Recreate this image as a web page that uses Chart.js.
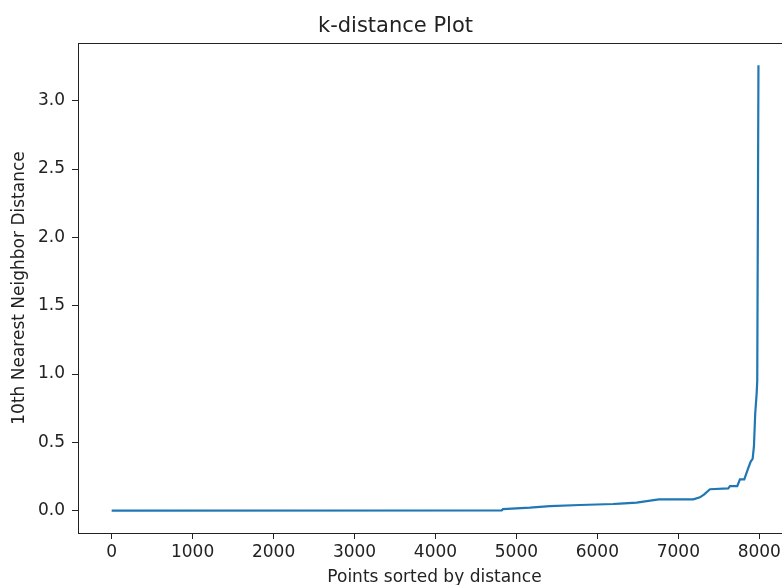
<!DOCTYPE html>
<html>
<head>
<meta charset="utf-8">
<script src="https://cdn.jsdelivr.net/npm/chart.js@4.4.1/dist/chart.umd.min.js"></script>
<style>
  html, body { margin:0; padding:0; background:#fff; overflow:hidden; }
  #wrap { width:782px; height:585px; overflow:hidden; }
</style>
</head>
<body>
<div id="wrap"><canvas id="kdist" width="800" height="585"></canvas></div>
<script>
// points triés (index) et distance au 10e voisin
const pointIdx = [0, 4818, 4834, 5167, 5414, 5785, 6193, 6280, 6485, 6759, 7185, 7267, 7320, 7391, 7617, 7638, 7728, 7761, 7815, 7857, 7894, 7918, 7934, 7950, 7968, 7975, 7990];
const kDist    = [0.0, 0.003, 0.012, 0.022, 0.034, 0.042, 0.049, 0.052, 0.059, 0.083, 0.083, 0.098, 0.12, 0.157, 0.164, 0.18, 0.18, 0.23, 0.23, 0.30, 0.36, 0.38, 0.47, 0.71, 0.86, 0.95, 3.26];

const xTicks = [0, 1000, 2000, 3000, 4000, 5000, 6000, 7000, 8000];
const yTicks = [0.0, 0.5, 1.0, 1.5, 2.0, 2.5, 3.0];

const FONT = "'DejaVu Sans', sans-serif";
const INK = '#222';

// cadre complet autour de la zone de tracé (style matplotlib)
const frame = {
  id:'frame',
  afterDraw(chart) {
    const { ctx, chartArea:a } = chart;
    ctx.save();
    ctx.strokeStyle = INK; ctx.lineWidth = 1;
    ctx.strokeRect(Math.round(a.left)+0.5, Math.round(a.top)+0.5, Math.round(a.right-a.left), Math.round(a.bottom-a.top));
    ctx.restore();
  }
};

new Chart(document.getElementById('kdist'), {
  type:'line',
  data:{ datasets:[{
    data: pointIdx.map((x,i) => ({ x, y: kDist[i] })),
    borderColor:'#1f77b4', borderWidth:2.2, pointRadius:0, tension:0, fill:false
  }]},
  options:{
    responsive:false, animation:false, devicePixelRatio:1,
    layout:{ padding:{ left:0, right:9, top:0, bottom:0 } },
    plugins:{
      legend:{ display:false }, tooltip:{ enabled:false },
      title:{ display:true, text:'k-distance Plot', color:INK, font:{ family:FONT, size:21, weight:'normal', lineHeight:1.2 }, padding:{ top:14, bottom:3.8 } }
    },
    scales:{
      x:{
        type:'linear', min:-416, max:8392,
        afterFit: s => { s.height = 52; },
        afterBuildTicks: s => { s.ticks = xTicks.map(v => ({ value:v })); },
        grid:{ drawOnChartArea:false, drawTicks:true, tickLength:6, color:INK },
        border:{ display:false },
        ticks:{ color:INK, font:{ family:FONT, size:17 }, padding:3, maxRotation:0, autoSkip:false, callback: v => String(v) },
        title:{ display:true, text:'Points sorted by distance', color:INK, font:{ family:FONT, size:17, lineHeight:1.2 }, padding:{ top:0, bottom:-3 } }
      },
      y:{
        type:'linear', min:-0.163, max:3.422,
        afterFit: s => { s.width = 78; },
        afterBuildTicks: s => { s.ticks = yTicks.map(v => ({ value:v })); },
        grid:{ drawOnChartArea:false, drawTicks:true, tickLength:6, color:INK },
        border:{ display:false },
        ticks:{ color:INK, font:{ family:FONT, size:17 }, padding:7, callback: v => v.toFixed(1) },
        title:{ display:true, text:'10th Nearest Neighbor Distance', color:INK, font:{ family:FONT, size:17, lineHeight:1.2 }, padding:{ top:9, bottom:0 } }
      }
    }
  },
  plugins:[frame]
});
</script>
</body>
</html>
